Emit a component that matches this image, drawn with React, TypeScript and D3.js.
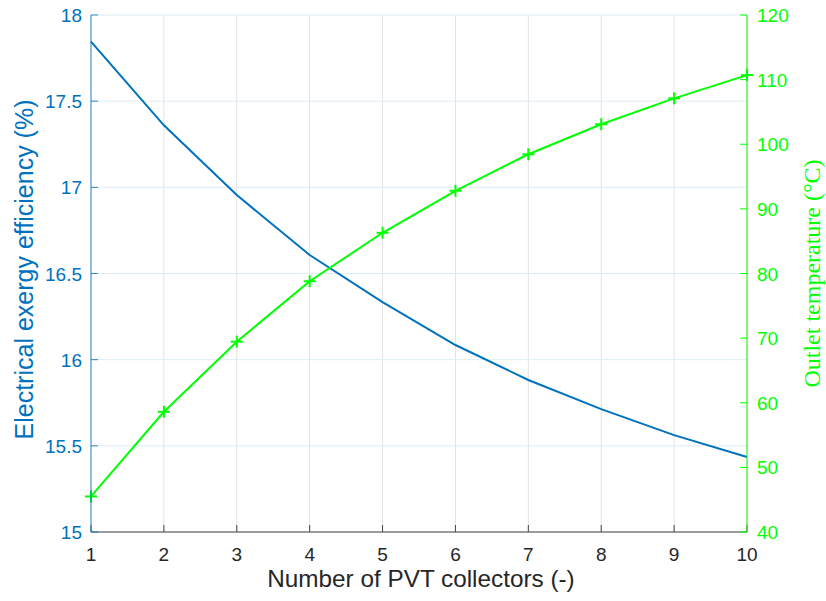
import React from "react";
import * as d3 from "d3";

const collectors = [1, 2, 3, 4, 5, 6, 7, 8, 9, 10];
const exergyEff = [17.845, 17.36, 16.955, 16.607, 16.334, 16.085, 15.882, 15.713, 15.562, 15.435];
const outletTemp = [45.5, 58.6, 69.45, 78.8, 86.3, 92.8, 98.45, 103.1, 107.1, 110.7];
const leftTicks = [15, 15.5, 16, 16.5, 17, 17.5, 18];
const rightTicks = [40, 50, 60, 70, 80, 90, 100, 110, 120];
const xTicks = [1, 2, 3, 4, 5, 6, 7, 8, 9, 10];

const W = 826;
const H = 601;
const L = 91;
const R = 747;
const T = 15;
const B = 532;
const BLUE = "#0072BD";
const GREEN = "#00FF00";
const FONT = "'Liberation Sans', Arial, Helvetica, sans-serif";

export default function App() {
  const x = d3.scaleLinear().domain([1, 10]).range([L, R]);
  const yL = d3.scaleLinear().domain([15, 18]).range([B, T]);
  const yR = d3.scaleLinear().domain([40, 120]).range([B, T]);

  const lineL = d3
    .line<number>()
    .x((_, i) => x(collectors[i]))
    .y((d) => yL(d));
  const lineR = d3
    .line<number>()
    .x((_, i) => x(collectors[i]))
    .y((d) => yR(d));

  const ms = 6;

  return (
    <svg
      width={W}
      height={H}
      style={{ position: "absolute", left: 0, top: 0, background: "#fff" }}
    >
      <rect x={0} y={0} width={W} height={H} fill="#fff" />
      {/* vertical grid */}
      {xTicks.map((t) => (
        <line key={"vg" + t} x1={x(t)} x2={x(t)} y1={T} y2={B} stroke="#e3e3e3" strokeWidth={1} />
      ))}
      {/* horizontal grid (left axis) */}
      {leftTicks.map((t) => (
        <line key={"hg" + t} x1={L} x2={R} y1={yL(t)} y2={yL(t)} stroke="#deecf6" strokeWidth={1} />
      ))}
      {/* data lines */}
      <path d={lineL(exergyEff) || ""} fill="none" stroke={BLUE} strokeWidth={2} />
      <path d={lineR(outletTemp) || ""} fill="none" stroke={GREEN} strokeWidth={2} />
      {outletTemp.map((v, i) => (
        <g key={"m" + i} stroke={GREEN} strokeWidth={2}>
          <line x1={x(collectors[i]) - ms} x2={x(collectors[i]) + ms} y1={yR(v)} y2={yR(v)} />
          <line x1={x(collectors[i])} x2={x(collectors[i])} y1={yR(v) - ms} y2={yR(v) + ms} />
        </g>
      ))}
      {/* bottom axis */}
      <line x1={L} x2={R} y1={B} y2={B} stroke="#444" strokeWidth={1} />
      {xTicks.map((t) => (
        <g key={"xt" + t}>
          <line x1={x(t)} x2={x(t)} y1={B} y2={B - 7} stroke="#444" strokeWidth={1} />
          <text
            x={x(t)}
            y={561}
            textAnchor="middle"
            fontFamily={FONT}
            fontSize={19}
            fill="#262626"
          >
            {t}
          </text>
        </g>
      ))}
      {/* left axis */}
      <line x1={L} x2={L} y1={T} y2={B} stroke={BLUE} strokeWidth={1} opacity={0.8} />
      {leftTicks.map((t) => (
        <g key={"lt" + t}>
          <line x1={L} x2={L + 7} y1={yL(t)} y2={yL(t)} stroke={BLUE} strokeWidth={1} opacity={0.8} />
          <text
            x={L - 9}
            y={yL(t) + 7}
            textAnchor="end"
            fontFamily={FONT}
            fontSize={19}
            fill={BLUE}
          >
            {t}
          </text>
        </g>
      ))}
      {/* right axis */}
      <line x1={R} x2={R} y1={T} y2={B} stroke={GREEN} strokeWidth={1} />
      {rightTicks.map((t) => (
        <g key={"rt" + t}>
          <line x1={R} x2={R - 7} y1={yR(t)} y2={yR(t)} stroke={GREEN} strokeWidth={1} />
          <text
            x={R + 10}
            y={yR(t) + 7}
            textAnchor="start"
            fontFamily={FONT}
            fontSize={19}
            fill={GREEN}
          >
            {t}
          </text>
        </g>
      ))}
      {/* axis labels */}
      <text
        x={(L + R) / 2 + 2}
        y={587}
        textAnchor="middle"
        fontFamily={FONT}
        fontSize={24.3}
        fill="#262626"
      >
        Number of PVT collectors (-)
      </text>
      <text
        transform={`translate(33, ${(T + B) / 2 - 4}) rotate(-90)`}
        textAnchor="middle"
        fontFamily={FONT}
        fontSize={25}
        fill={BLUE}
      >
        Electrical exergy efficiency (%)
      </text>
      <text
        transform={`translate(820, ${(T + B) / 2}) rotate(-90)`}
        textAnchor="middle"
        fontFamily="'Liberation Serif', 'Times New Roman', serif"
        fontSize={24}
        fill={GREEN}
      >
        Outlet temperature (°C)
      </text>
    </svg>
  );
}
